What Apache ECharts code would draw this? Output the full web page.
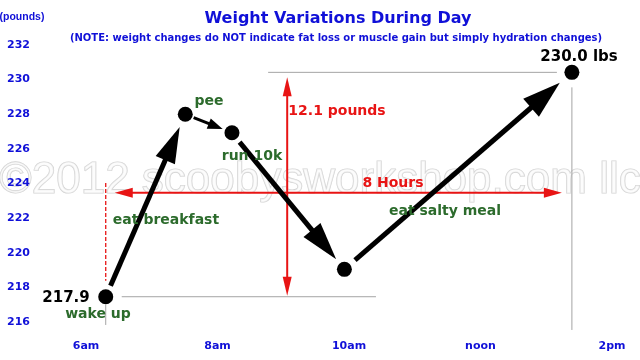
<!DOCTYPE html>
<html><head><meta charset="utf-8">
<script src="https://cdn.jsdelivr.net/npm/echarts@6/dist/echarts.min.js"></script>
<style>html,body{margin:0;padding:0;background:#fff}#c{width:640px;height:360px}</style>
</head><body><div id="c"></div>
<script>
// ---- data ----
const hours   = [6.30, 7.51, 8.22, 9.93, 13.39];          // time of day (h)
const weights = [217.46, 228.0, 226.93, 219.04, 230.42];  // body weight (lb)
const xTickValues = [6, 8, 10, 12, 14];
const xTickLabels = ['6am', '8am', '10am', 'noon', '2pm'];
const yMin = 216, yMax = 232, yStep = 2;
const startLabel = '217.9';
const endLabel = '230.0 lbs';
const eventLabels = ['wake up', 'pee', 'run 10k', 'eat breakfast', 'eat salty meal'];
const spanLabels = ['12.1 pounds', '8 Hours'];
// reference levels for the annotation guides
const spanWeight = 223.47;     // level of the "8 Hours" arrow
const spanHour = 9.06;         // time of the "12.1 pounds" arrow
const breakfastTop = 224.03;   // top of dashed breakfast marker
const wakeGuideEnd = 10.41;    // end of grey line at wake weight
const endGuideStart = 8.77;    // start of grey line at final weight
const axisFoot = 215.54;       // bottom of grey drop line
const tickFoot = 215.83;       // bottom of wake tick

const title = 'Weight Variations During Day';
const subtitle = '(NOTE: weight changes do NOT indicate fat loss or muscle gain but simply hydration changes)';
const unitLabel = '(pounds)';
const watermark = '\u00A92012 scoobysworkshop.com llc';

// ---- styles ----
const FONT = '"DejaVu Sans", sans-serif';
const BLUE = '#1010d8', GREEN = '#2c6b2c', RED = '#e81414', GRAY = '#a4a4a4';

const points = hours.map((h, i) => [h, weights[i]]);
const last = points.length - 1;
const segments = points.slice(0, -1).map((p, i) => [p[0], p[1], points[i + 1][0], points[i + 1][1]]);
const arrowStyles = [
  {g1: 12, g2: 14, w: 5, hl: 36, hw: 21, color: '#000', heads: [false, true]},
  {g1: 9,  g2: 10, w: 3, hl: 15, hw: 11, color: '#000', heads: [false, true]},
  {g1: 12, g2: 13, w: 5, hl: 38, hw: 22, color: '#000', heads: [false, true]},
  {g1: 14, g2: 16, w: 5, hl: 38, hw: 24, color: '#000', heads: [false, true]}
];
const guides = [
  {a: [hours[0], spanWeight], b: [hours[last], spanWeight], g1: 9, g2: 10, color: RED, w: 2, heads: [true, true], hl: 18, hw: 10},
  {a: [spanHour, weights[0]], b: [spanHour, weights[last]], g1: 1, g2: 5, color: RED, w: 2, heads: [true, true], hl: 19, hw: 9},
  {a: [hours[0], breakfastTop], b: [hours[0], weights[0]], g1: 0, g2: 16, color: RED, w: 1.3, dash: [4, 2]},
  {a: [hours[0], weights[0]], b: [wakeGuideEnd, weights[0]], g1: 16, g2: 0, color: GRAY, w: 1},
  {a: [endGuideStart, weights[last]], b: [hours[last], weights[last]], g1: 0, g2: 15, color: GRAY, w: 1},
  {a: [hours[last], weights[last]], b: [hours[last], axisFoot], g1: 15, g2: 0, color: GRAY, w: 1},
  {a: [hours[0], weights[0]], b: [hours[0], tickFoot], g1: 8, g2: 0, color: GRAY, w: 1}
];

function drawArrow(p1, p2, o) {
  const dx = p2[0] - p1[0], dy = p2[1] - p1[1], L = Math.hypot(dx, dy) || 1;
  const ux = dx / L, uy = dy / L;
  const s = [p1[0] + ux * (o.g1 || 0), p1[1] + uy * (o.g1 || 0)];
  const e = [p2[0] - ux * (o.g2 || 0), p2[1] - uy * (o.g2 || 0)];
  const hs = o.heads || [false, false];
  let ls = s.slice(), le = e.slice();
  if (hs[1]) le = [e[0] - ux * (o.hl - 3), e[1] - uy * (o.hl - 3)];
  if (hs[0]) ls = [s[0] + ux * (o.hl - 3), s[1] + uy * (o.hl - 3)];
  const kids = [{type: 'line', shape: {x1: ls[0], y1: ls[1], x2: le[0], y2: le[1]},
    style: {stroke: o.color, lineWidth: o.w, lineDash: o.dash || null}}];
  const head = (tip, vx, vy) => {
    const bx = tip[0] - vx * o.hl, by = tip[1] - vy * o.hl;
    const px = -vy * o.hw / 2, py = vx * o.hw / 2;
    return {type: 'polygon', shape: {points: [tip, [bx + px, by + py], [bx - px, by - py]]}, style: {fill: o.color}};
  };
  if (hs[1]) kids.push(head(e, ux, uy));
  if (hs[0]) kids.push(head(s, -ux, -uy));
  return kids;
}
function makeRender(styles) {
  return function (params, api) {
    const p1 = api.coord([api.value(0), api.value(1)]);
    const p2 = api.coord([api.value(2), api.value(3)]);
    return {type: 'group', children: drawArrow(p1, p2, styles[params.dataIndex])};
  };
}

const txt = (t, x, y, size, fill, family) => ({
  type: 'text', x: x, y: y, z: 100,
  style: {text: t, font: 'bold ' + size + 'px ' + (family || FONT), fill: fill, textAlign: 'center', textVerticalAlign: 'middle'}
});

const chart = echarts.init(document.getElementById('c'), null, {renderer: 'canvas'});
chart.setOption({
  animation: false,
  backgroundColor: '#fff',
  grid: {left: 86, right: 28, top: 45, bottom: 38},
  xAxis: {
    type: 'value', min: xTickValues[0], max: xTickValues[xTickValues.length - 1], interval: 2,
    axisLine: {show: false}, axisTick: {show: false}, splitLine: {show: false},
    axisLabel: {margin: 19, color: BLUE, fontWeight: 'bold', fontSize: 11, fontFamily: FONT,
      formatter: v => { const i = xTickValues.indexOf(v); return i >= 0 ? xTickLabels[i] : ''; }}
  },
  yAxis: {
    type: 'value', min: yMin, max: yMax, interval: yStep,
    axisLine: {show: false}, axisTick: {show: false}, splitLine: {show: false},
    axisLabel: {margin: 56, color: BLUE, fontWeight: 'bold', fontSize: 11, fontFamily: FONT}
  },
  graphic: [
    {type: 'text', x: 320, y: 181, z: -10,
      style: {text: watermark, font: '44px "Liberation Sans", sans-serif', fill: 'rgba(250,250,250,0.6)',
        stroke: '#d2d2d2', lineWidth: 1.2, textAlign: 'center', textVerticalAlign: 'middle'}},
    txt(unitLabel, 22, 17, 10.5, BLUE, '"Liberation Sans", sans-serif'),
    txt(title, 338, 19, 16, BLUE),
    txt(subtitle, 336, 38, 10, BLUE),
    txt(startLabel, 66, 298, 15, '#000'),
    txt(endLabel, 579, 57, 15, '#000'),
    txt(eventLabels[0], 98, 314, 14, GREEN),
    txt(eventLabels[1], 209, 101, 14, GREEN),
    txt(eventLabels[2], 252, 156, 14, GREEN),
    txt(eventLabels[3], 166, 220, 14, GREEN),
    txt(eventLabels[4], 445, 211, 14, GREEN),
    txt(spanLabels[0], 337, 111, 14, RED),
    txt(spanLabels[1], 393, 183, 14, RED)
  ],
  series: [
    {type: 'custom', z: 3, clip: false, renderItem: makeRender(guides),
      data: guides.map(g => [g.a[0], g.a[1], g.b[0], g.b[1]])},
    {type: 'custom', z: 4, clip: false, renderItem: makeRender(arrowStyles), data: segments},
    {type: 'scatter', z: 5, symbol: 'circle', symbolSize: 15, itemStyle: {color: '#000', opacity: 1}, data: points}
  ]
});
</script></body></html>
